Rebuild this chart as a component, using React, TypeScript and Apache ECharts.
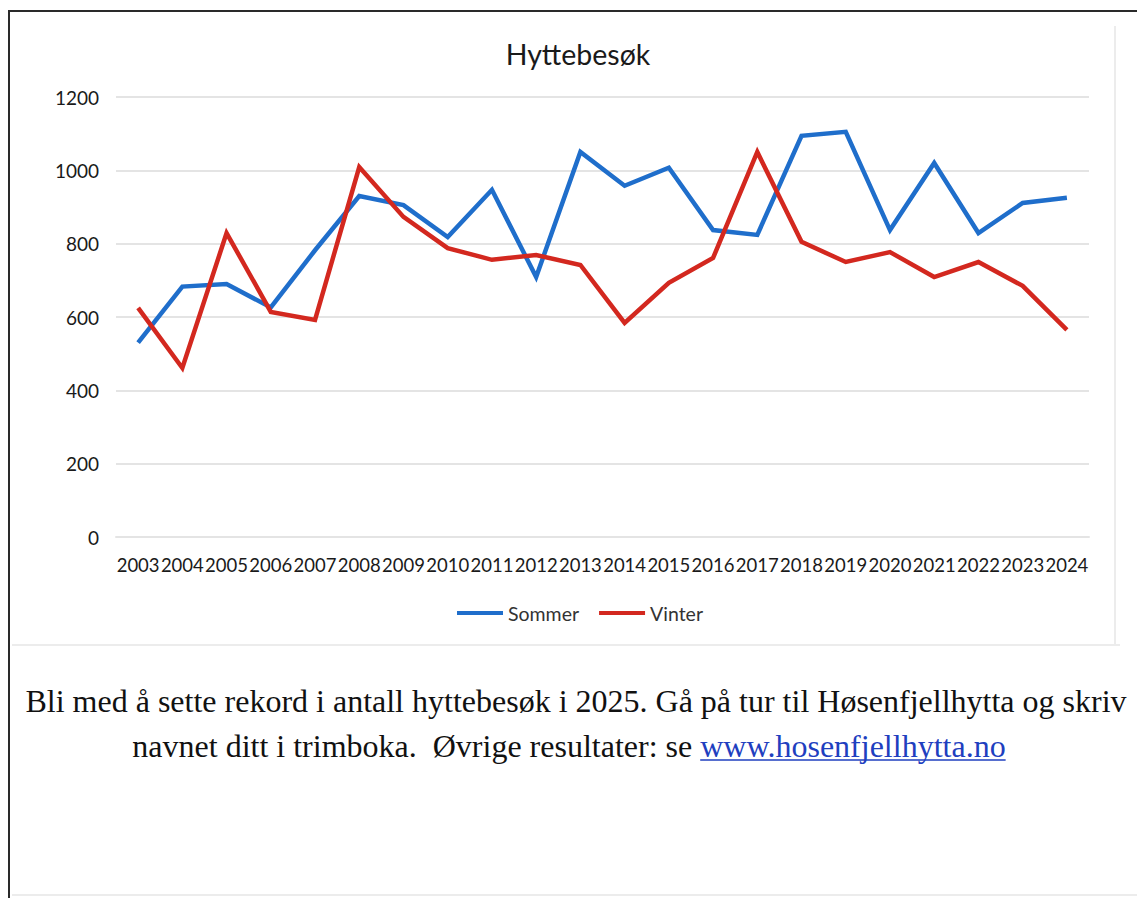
import React, { useEffect, useRef } from "react";
import * as echarts from "echarts";

const years = ["2003","2004","2005","2006","2007","2008","2009","2010","2011","2012","2013","2014","2015","2016","2017","2018","2019","2020","2021","2022","2023","2024"];
const sommer = [530, 683, 690, 626, 782, 930, 905, 818, 947, 709, 1050, 958, 1007, 837, 824, 1094, 1105, 837, 1020, 829, 911, 925];
const vinter = [625, 461, 829, 614, 592, 1009, 873, 788, 756, 769, 742, 584, 693, 761, 1050, 805, 750, 777, 709, 750, 685, 565];
const yTicks = { min: 0, max: 1200, interval: 200 };
const title = "Hyttebesøk";
const line1 = "Bli med å sette rekord i antall hyttebesøk i 2025. Gå på tur til Høsenfjellhytta og skriv";
const line2a = "navnet ditt i trimboka.  Øvrige resultater: se ";
const link = "www.hosenfjellhytta.no";

const W = 1137;
const H = 898;
const SANS = "Lato, 'Open Sans', sans-serif";

function measure(text: string, font: string): number {
  const c = document.createElement("canvas").getContext("2d");
  if (!c) return text.length * 13;
  c.font = font;
  return c.measureText(text).width;
}

export default function App() {
  const ref = useRef<HTMLDivElement>(null);
  useEffect(() => {
    if (!ref.current) return;
    const chart = echarts.init(ref.current, undefined, { renderer: "svg" });
    const fs = 32;
    const fontStr = `${fs}px 'Liberation Serif'`;
    const w2a = measure(line2a, fontStr);
    const wl = measure(link, fontStr);
    const total2 = w2a + wl;
    const start2 = 569 - total2 / 2;
    const linkX = start2 + w2a;

    chart.setOption({
      animation: false,
      backgroundColor: "#ffffff",
      title: {
        text: title,
        left: 573,
        textAlign: "center",
        top: 34,
        textStyle: { fontFamily: SANS, fontSize: 28.5, fontWeight: "normal", color: "#1a1a1a" },
      },
      legend: {
        data: ["Sommer", "Vinter"],
        left: 452,
        top: 598,
        icon: "rect",
        itemWidth: 46,
        itemHeight: 4,
        itemGap: 20,
        textStyle: { fontFamily: SANS, fontSize: 19.5, color: "#333333" },
      },
      grid: { left: 116, right: 48, top: 97, bottom: 361, containLabel: false },
      xAxis: {
        type: "category",
        data: years,
        boundaryGap: true,
        axisLine: { show: true, lineStyle: { color: "#e4e4e4", width: 2 } },
        axisTick: { show: false },
        axisLabel: { fontFamily: SANS, fontSize: 18.5, color: "#1a1a1a", margin: 18, interval: 0 },
      },
      yAxis: {
        type: "value",
        min: yTicks.min,
        max: yTicks.max,
        interval: yTicks.interval,
        axisLine: { show: false },
        axisTick: { show: false },
        splitLine: { show: true, lineStyle: { color: "#e4e4e4", width: 2 } },
        axisLabel: {
          fontFamily: SANS,
          fontSize: 19,
          color: "#1a1a1a",
          margin: 17,
          formatter: (v: number) => String(v),
        },
      },
      series: [
        {
          name: "Sommer",
          type: "line",
          data: sommer,
          showSymbol: false,
          symbol: "none",
          color: "#1f6ecb",
          lineStyle: { width: 4.5, color: "#1f6ecb", join: "miter" },
        },
        {
          name: "Vinter",
          type: "line",
          data: vinter,
          showSymbol: false,
          symbol: "none",
          color: "#d3281f",
          lineStyle: { width: 4.5, color: "#d3281f", join: "miter" },
        },
      ],
      graphic: [
        { type: "line", shape: { x1: 8, y1: 11, x2: W, y2: 11 }, style: { stroke: "#2a2a2a", lineWidth: 2 } },
        { type: "line", shape: { x1: 9, y1: 10, x2: 9, y2: H }, style: { stroke: "#2a2a2a", lineWidth: 2 } },
        { type: "line", shape: { x1: 1115, y1: 26, x2: 1115, y2: 645 }, style: { stroke: "#ececec", lineWidth: 2 } },
        { type: "line", shape: { x1: 12, y1: 645, x2: 1120, y2: 645 }, style: { stroke: "#ececec", lineWidth: 2 } },
        { type: "line", shape: { x1: 12, y1: 895, x2: W, y2: 895 }, style: { stroke: "#ececec", lineWidth: 2 } },
        {
          type: "text",
          x: 576,
          y: 717,
          style: { text: line1, font: fontStr, fill: "#111111", align: "center", verticalAlign: "bottom" },
        },
        {
          type: "text",
          x: start2,
          y: 762,
          style: { text: line2a, font: fontStr, fill: "#111111", align: "left", verticalAlign: "bottom" },
        },
        {
          type: "text",
          x: linkX,
          y: 762,
          style: { text: link, font: fontStr, fill: "#1f3fbf", align: "left", verticalAlign: "bottom" },
        },
        { type: "line", shape: { x1: linkX, y1: 760, x2: linkX + wl, y2: 760 }, style: { stroke: "#1f3fbf", lineWidth: 1.5 } },
      ],
    });
    return () => chart.dispose();
  }, []);
  return <div ref={ref} style={{ position: "fixed", left: 0, top: 0, width: W, height: H }} />;
}
